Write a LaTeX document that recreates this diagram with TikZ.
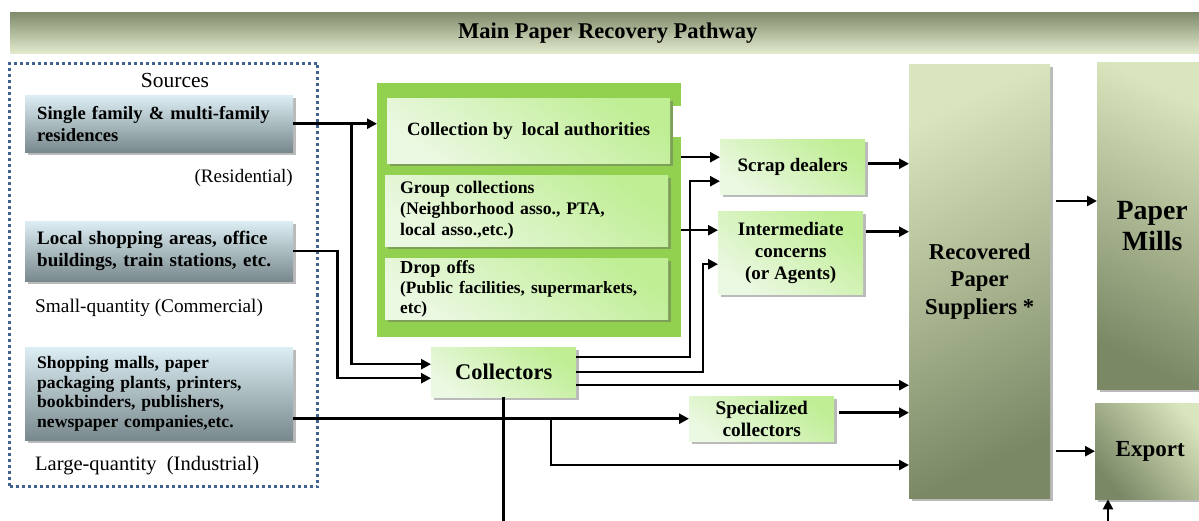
\documentclass[tikz,border=0pt]{standalone}
\usepackage{fontspec}
\setmainfont{Liberation Serif}
\usetikzlibrary{shadows,arrows.meta,calc}
\definecolor{titletop}{HTML}{7F8B6B}
\definecolor{titlebot}{HTML}{E2EACD}
\definecolor{srctop}{HTML}{DCEEF4}
\definecolor{srcbot}{HTML}{78888C}
\definecolor{grnouter}{HTML}{92D050}
\definecolor{lgA}{HTML}{BFEE94}
\definecolor{lgB}{HTML}{EBF8E2}
\definecolor{olA}{HTML}{D9E5BC}
\definecolor{olB}{HTML}{7B8866}
\definecolor{dotblue}{HTML}{41628F}
\tikzset{
  shd/.style={drop shadow={shadow xshift=3pt, shadow yshift=-3pt, opacity=0.45, fill=black!60}},
  srcbox/.style={shd, top color=srctop, bottom color=srcbot, anchor=north west, inner ysep=0pt, inner xsep=12pt, align=left},
  lgbox/.style={shd, top color=lgA, bottom color=lgB, shading angle=-35, anchor=north west, inner sep=0pt, align=center},
  olbox/.style={shd, top color=olA, bottom color=olB, anchor=north west, inner sep=0pt, align=center},
  lbl/.style={inner sep=0pt},
  arr/.style={line width=2.5pt, -{Triangle[length=10pt,width=10pt]}},
  ln/.style={line width=2.5pt},
}
\begin{document}
\begin{tikzpicture}[x=1pt,y=-1pt]
\useasboundingbox (0,0) rectangle (1199,521);
% title
\node[anchor=north west, minimum width=1195pt, minimum height=41pt, top color=titletop, bottom color=titlebot, inner sep=0pt, font=\bfseries\fontsize{22.5}{22.5}\selectfont] (title) at (10,12) {Main Paper Recovery Pathway};
% sources frame
\node[draw=dotblue, line width=3pt, dash pattern=on 3pt off 3pt, anchor=north west, minimum width=308pt, minimum height=423pt, inner sep=0pt] (frame) at (8,62) {};
\node[lbl, font=\fontsize{21.5}{21.5}\selectfont] (srclbl) at (175,80) {Sources};
\node[srcbox, text width=244pt, minimum height=57pt, font=\bfseries\fontsize{18.6}{22}\selectfont] (res) at (25,95) {Single family \& multi-family\\residences};
\node[lbl, anchor=east, font=\fontsize{19}{19}\selectfont] (lres) at (293,178) {(Residential)};
\node[srcbox, text width=244pt, minimum height=60pt, font=\bfseries\fontsize{19}{22}\selectfont] (com) at (25,221) {Local shopping areas, office\\buildings, train stations, etc.};
\node[lbl, anchor=west, font=\fontsize{19.3}{19.3}\selectfont] (lcom) at (35,308) {Small-quantity (Commercial)};
\node[srcbox, text width=244pt, minimum height=93pt, font=\bfseries\fontsize{17.6}{19.4}\selectfont] (ind) at (25,347) {Shopping malls, paper\\packaging plants, printers,\\bookbinders, publishers,\\newspaper companies,etc.};
\node[lbl, anchor=west, font=\fontsize{20.5}{20.5}\selectfont] (lind) at (35,466) {Large-quantity\ \ (Industrial)};
% green group
\node[fill=grnouter, anchor=north west, minimum width=304pt, minimum height=254pt, inner sep=0pt] (grp) at (377,83) {};
\fill[white] (673,106) rectangle (684,137);
\node[lgbox, minimum width=283pt, minimum height=65pt, font=\bfseries\fontsize{18.7}{20}\selectfont] (auth) at (387,98) {Collection by\ \ local authorities};
\node[lgbox, align=left, inner xsep=15pt, text width=253pt, minimum height=71pt, font=\bfseries\fontsize{17.7}{21}\selectfont] (group) at (385,175) {Group collections\\(Neighborhood asso., PTA,\\local asso.,etc.)};
\node[lgbox, align=left, inner xsep=15pt, text width=253pt, minimum height=61pt, font=\bfseries\fontsize{18.3}{20}\selectfont] (drop) at (385,258) {Drop offs\\{\fontsize{17.3}{21}\selectfont (Public facilities, supermarkets,}\\{\fontsize{17.3}{19}\selectfont etc)}};
% middle boxes
\node[lgbox, minimum width=145pt, minimum height=55pt, font=\bfseries\fontsize{19}{20}\selectfont] (scrap) at (720,139) {Scrap dealers};
\node[lgbox, minimum width=145pt, minimum height=83pt, font=\bfseries\fontsize{19}{22}\selectfont] (int) at (718,211) {Intermediate\\concerns\\(or Agents)};
\node[lgbox, minimum width=145pt, minimum height=50pt, font=\bfseries\fontsize{22.4}{22.4}\selectfont] (coll) at (431,347) {Collectors};
\node[lgbox, minimum width=145pt, minimum height=45pt, font=\bfseries\fontsize{19.3}{22}\selectfont] (spec) at (689,396) {Specialized\\collectors};
% right boxes
\node[olbox, shading angle=25, minimum width=141pt, minimum height=434pt, font=\bfseries\fontsize{22.7}{27.5}\selectfont] (rec) at (909,64) {Recovered\\Paper\\Suppliers *};
\node[olbox, shading angle=-25, minimum width=110pt, minimum height=327pt, font=\bfseries\fontsize{27.8}{31}\selectfont] (mills) at (1097,62) {Paper\\Mills};
\node[olbox, shading angle=-50, minimum width=110pt, minimum height=96pt, font=\bfseries\fontsize{23}{23}\selectfont] (exp) at (1095,403) {Export};
% connectors
\draw[arr] (res.east) -- (grp.west |- res.east);
\path (res.east) ++(58,0) coordinate (j1);
\draw[arr] (j1) |- ([yshift=8pt]coll.west);
\draw[arr] (com.east) -- ++(44,0) |- ([yshift=-6pt]coll.west);
\draw[arr] (ind.east |- spec.west) -- (spec.west);
\path (spec.west) ++(-138,0) coordinate (j2);
\draw[arr] (j2) |- (rec.west |- 0,465);
\coordinate (cb) at (coll.south |- 0,521);
\draw[ln] (coll.south) -- (cb);
\coordinate (c1) at ([yshift=15pt]coll.east);
\draw[arr] (c1) -- (c1 -| 690,0) |- ([yshift=-14.5pt]scrap.west);
\draw[arr] (coll.east) -- (coll.east -| 703,0) |- ([yshift=-11.5pt]int.west);
\coordinate (c3) at ([yshift=-13pt]coll.east);
\draw[arr] (c3) -- (c3 -| rec.west);
\coordinate (s1) at ([yshift=9.5pt]scrap.west);
\draw[arr] (s1 -| grp.east) -- (s1);
\coordinate (i1) at ([yshift=22.5pt]int.west);
\draw[arr] (i1 -| grp.east) -- (i1);
\coordinate (s2) at ([yshift=3pt]scrap.east);
\draw[arr] ([xshift=3pt]s2) -- (s2 -| rec.west);
\coordinate (i2) at ([yshift=21pt]int.east);
\draw[arr] ([xshift=3pt]i2) -- (i2 -| rec.west);
\coordinate (p1) at ([yshift=6pt]spec.east);
\draw[arr] ([xshift=5pt]p1) -- (p1 -| rec.west);
\coordinate (m1) at (rec.east |- 0,201);
\draw[arr] ([xshift=6pt]m1) -- (m1 -| mills.west);
\draw[arr] ([xshift=6pt]rec.east |- exp.west) -- (exp.west);
\coordinate (eb) at (1108,521);
\draw[arr] (eb) -- (eb |- exp.south);
\end{tikzpicture}
\end{document}
